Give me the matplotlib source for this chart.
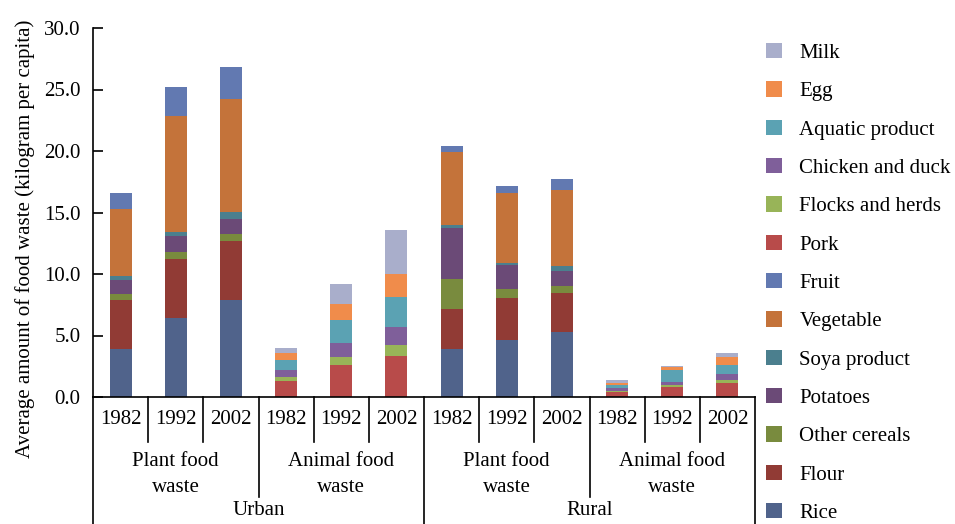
import numpy as np
import matplotlib.pyplot as plt
from matplotlib.patches import Patch
import matplotlib.transforms as mtransforms

plt.rcParams['font.family'] = ['Liberation Serif', 'DejaVu Serif']

years = ["1982", "1992", "2002"] * 4
groups = ["Plant food\nwaste", "Animal food\nwaste", "Plant food\nwaste", "Animal food\nwaste"]
areas = ["Urban", "Rural"]

# bottom -> top stacking order
categories = ["Rice", "Flour", "Other cereals", "Potatoes", "Soya product", "Vegetable",
              "Fruit", "Pork", "Flocks and herds", "Chicken and duck", "Aquatic product",
              "Egg", "Milk"]
colors = ["#50638B", "#913B35", "#798B3E", "#6B4A77", "#4B7F8E", "#C4733A",
          "#6279B1", "#B84B4A", "#98B458", "#7F5F9A", "#5BA2B3", "#F08C4B", "#A9AECB"]

# bars: urban plant 82/92/02, urban animal 82/92/02, rural plant 82/92/02, rural animal 82/92/02
rice      = [3.90, 6.44, 7.90, 0, 0, 0, 3.87, 4.60, 5.31, 0, 0, 0]
flour     = [4.00, 4.82, 4.82, 0, 0, 0, 3.25, 3.47, 3.16, 0, 0, 0]
cereals   = [0.44, 0.51, 0.57, 0, 0, 0, 2.51, 0.75, 0.57, 0, 0, 0]
potatoes  = [1.19, 1.33, 1.16, 0, 0, 0, 4.14, 1.92, 1.22, 0, 0, 0]
soya      = [0.27, 0.32, 0.57, 0, 0, 0, 0.22, 0.19, 0.35, 0, 0, 0]
vegetable = [5.49, 9.42, 9.23, 0, 0, 0, 5.93, 5.69, 6.25, 0, 0, 0]
fruit     = [1.27, 2.38, 2.55, 0, 0, 0, 0.45, 0.54, 0.84, 0, 0, 0]
pork      = [0, 0, 0, 1.27, 2.57, 3.36, 0, 0, 0, 0.41, 0.81, 1.16]
flocks    = [0, 0, 0, 0.35, 0.71, 0.86, 0, 0, 0, 0.11, 0.16, 0.22]
chicken   = [0, 0, 0, 0.57, 1.08, 1.46, 0, 0, 0, 0.19, 0.27, 0.51]
aquatic   = [0, 0, 0, 0.81, 1.92, 2.44, 0, 0, 0, 0.27, 0.92, 0.68]
egg       = [0, 0, 0, 0.57, 1.30, 1.84, 0, 0, 0, 0.19, 0.25, 0.68]
milk      = [0, 0, 0, 0.41, 1.59, 3.63, 0, 0, 0, 0.22, 0.15, 0.35]

series = [rice, flour, cereals, potatoes, soya, vegetable, fruit,
          pork, flocks, chicken, aquatic, egg, milk]

fig = plt.figure(figsize=(9.55, 5.24), dpi=100)
ax = fig.add_axes([93 / 955, 1 - 397 / 524, 662 / 955, 369 / 524])

x = np.arange(len(years))
bottom = np.zeros(len(years))
for name, vals, c in zip(categories, series, colors):
    vals = np.array(vals)
    ax.bar(x, vals, 0.4, bottom=bottom, color=c, label=name)
    bottom += vals

ax.set_xlim(-0.5, len(years) - 0.5)
ax.set_ylim(0, 30)
ax.set_yticks(np.arange(0, 30.1, 5))
ax.set_yticklabels([f"{v:.1f}" for v in np.arange(0, 30.1, 5)], fontsize=15)
ax.tick_params(axis='y', direction='in', length=7, width=1.2, pad=9)
ax.tick_params(axis='x', bottom=False, labelbottom=False)
for s in ['top', 'right']:
    ax.spines[s].set_visible(False)
ax.spines['left'].set_linewidth(1.2)
ax.spines['bottom'].set_linewidth(1.2)

ax.set_ylabel("Average amount of food waste (kilogram per capita)", fontsize=15)
ax.yaxis.set_label_coords(-0.088, 0.43)

# category table under the axis
trans = mtransforms.blended_transform_factory(ax.transData, ax.transAxes)
for k in range(len(years) + 1):
    xb = k - 0.5
    if k in (0, 6, 12):
        y_end = -0.5
    elif k in (3, 9):
        y_end = -0.27
    else:
        y_end = -0.122
    ax.plot([xb, xb], [0, y_end], color='black', lw=1.2, transform=trans, clip_on=False)

for i, yr in enumerate(years):
    ax.text(i, -0.06, yr, transform=trans, ha='center', va='center', fontsize=15)
for j, g in enumerate(groups):
    ax.text(3 * j + 1, -0.21, g, transform=trans, ha='center', va='center',
            fontsize=15, linespacing=1.45)
for j, a in enumerate(areas):
    ax.text(6 * j + 2.5, -0.308, a, transform=trans, ha='center', va='center', fontsize=15)

handles = [Patch(facecolor=c, label=n) for n, c in zip(categories, colors)][::-1]
fig.legend(handles=handles, loc='upper left', bbox_to_anchor=(766 / 955, 1 - 43 / 524),
           frameon=False, fontsize=15, handlelength=0.75, handleheight=0.75,
           handletextpad=0.85, labelspacing=0.885, borderpad=0, borderaxespad=0)

fig.savefig("out.png", dpi=100)
